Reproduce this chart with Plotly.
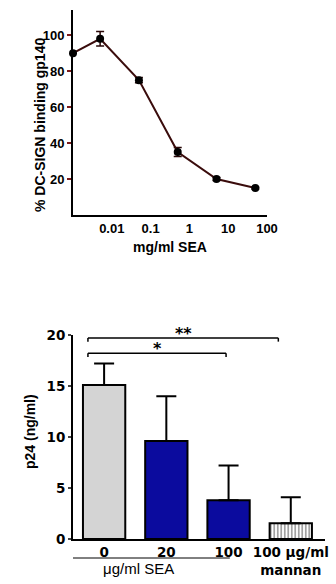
import plotly.graph_objects as go

# Top chart data
sea_conc = [0.001, 0.005, 0.05, 0.5, 5, 50]
binding = [90, 98, 75, 35, 20, 15]
binding_err = [0, 4, 1.5, 2.5, 0.8, 0.5]
top_xticks = [0.01, 0.1, 1, 10, 100]
top_xticklabels = ["0.01", "0.1", "1", "10", "100"]
top_yticks = [20, 40, 60, 80, 100]

# Bottom chart data
cats = [0, 1, 2, 3]
cat_labels = ["0", "20", "100", "100 μg/ml<br>mannan"]
p24 = [15.1, 9.6, 3.8, 1.55]
p24_err = [2.1, 4.4, 3.4, 2.55]
bar_colors = ["#d4d4d4", "#0b0b9e", "#0b0b9e", "white"]
bottom_yticks = [0, 5, 10, 15, 20]

FONT = "Liberation Sans"
WIDE = "DejaVu Sans"

fig = go.Figure()

fig.add_trace(go.Scatter(
    x=sea_conc, y=binding, mode="lines+markers",
    line=dict(color="#3a0c0c", width=2),
    marker=dict(color="black", size=8),
    error_y=dict(type="data", array=binding_err, color="#2a0808", thickness=1.5, width=4),
    cliponaxis=False, xaxis="x", yaxis="y", showlegend=False,
))

fig.add_trace(go.Bar(
    x=cats, y=p24, width=0.68,
    marker=dict(
        color=bar_colors,
        line=dict(color="black", width=2),
        pattern=dict(shape=["", "", "", "|"], fgcolor="#1414a8", bgcolor="white", size=3.5, solidity=0.5),
    ),
    error_y=dict(type="data", array=p24_err, arrayminus=[0, 0, 0, 0], symmetric=False,
                 color="black", thickness=2, width=10),
    xaxis="x2", yaxis="y2", showlegend=False,
))

fig.update_layout(
    width=336, height=584,
    margin=dict(l=0, r=0, t=0, b=0),
    paper_bgcolor="white", plot_bgcolor="white",
    xaxis=dict(
        type="log", range=[-3, 2], domain=[73/336, 267/336], anchor="y", automargin=False,
        tickvals=top_xticks, ticktext=top_xticklabels,
        showline=True, linecolor="black", linewidth=2, showgrid=False, zeroline=False,
        ticks="", tickfont=dict(family=FONT, size=13, color="black", weight="bold"),
    ),
    yaxis=dict(
        range=[0, 114], domain=[1-215/584, 1-10/584], anchor="x", automargin=False,
        tickvals=top_yticks, showline=True, linecolor="black", linewidth=2,
        showgrid=False, zeroline=False, ticks="outside", ticklen=4, tickcolor="#7a1a1a", tickwidth=1.5,
        tickfont=dict(family=FONT, size=13, color="black", weight="bold"),
    ),
    xaxis2=dict(
        range=[-0.5, 3.55], domain=[73/336, 325/336], anchor="y2", automargin=False,
        tickvals=cats, ticktext=cat_labels,
        showline=True, linecolor="black", linewidth=2, showgrid=False, zeroline=False, ticks="",
        tickfont=dict(family=WIDE, size=13.5, color="black", weight="bold"),
    ),
    yaxis2=dict(
        range=[0, 20], domain=[1-539/584, 1-335/584], anchor="x2", automargin=False,
        tickvals=bottom_yticks, showline=True, linecolor="black", linewidth=2,
        showgrid=False, zeroline=False, ticks="outside", ticklen=3, tickwidth=1.5,
        tickfont=dict(family=WIDE, size=13.5, color="black", weight="bold"),
    ),
)

# axis titles
fig.add_annotation(x=170/336, y=1-247/584, xref="paper", yref="paper", text="<b>mg/ml SEA</b>",
                   xanchor="center", yanchor="middle",
                   showarrow=False, font=dict(family=FONT, size=14, color="black"))
fig.add_annotation(x=40/336, y=1-125/584, xref="paper", yref="paper", text="<b>% DC-SIGN binding gp140</b>",
                   xanchor="center", yanchor="middle",
                   showarrow=False, textangle=-90, font=dict(family=FONT, size=14, color="black"))
fig.add_annotation(x=30/336, y=1-432/584, xref="paper", yref="paper", text="<b>p24 (ng/ml)</b>",
                   xanchor="center", yanchor="middle",
                   showarrow=False, textangle=-90, font=dict(family=FONT, size=14, color="black"))

# significance brackets
for x0, x1, yv, label in [(-0.26, 2.8, 19.7, "**"), (-0.26, 1.96, 18.2, "*")]:
    fig.add_shape(type="line", xref="x2", yref="y2", x0=x0, x1=x1, y0=yv, y1=yv,
                  line=dict(color="black", width=1.5))
    for xe in (x0, x1):
        fig.add_shape(type="line", xref="x2", yref="y2", x0=xe, x1=xe, y0=yv, y1=yv-0.35,
                      line=dict(color="black", width=1.5))
    fig.add_annotation(x=(x0 + x1) / 2, y=yv, xref="x2", yref="y2", text="<b>" + label + "</b>",
                       showarrow=False, yanchor="bottom", yshift=-7,
                       font=dict(family=WIDE, size=16, color="black"))

# SEA group line and label
fig.add_shape(type="line", xref="x2", yref="paper", x0=-0.55, x1=2.02,
              y0=1-558/584, y1=1-558/584, line=dict(color="black", width=1))
fig.add_annotation(x=0.55, y=1-568/584, xref="x2", yref="paper", text="μg/ml SEA",
                   xanchor="center", yanchor="middle",
                   showarrow=False, font=dict(family=FONT, size=15, color="black"))

fig.write_html("out.html")
